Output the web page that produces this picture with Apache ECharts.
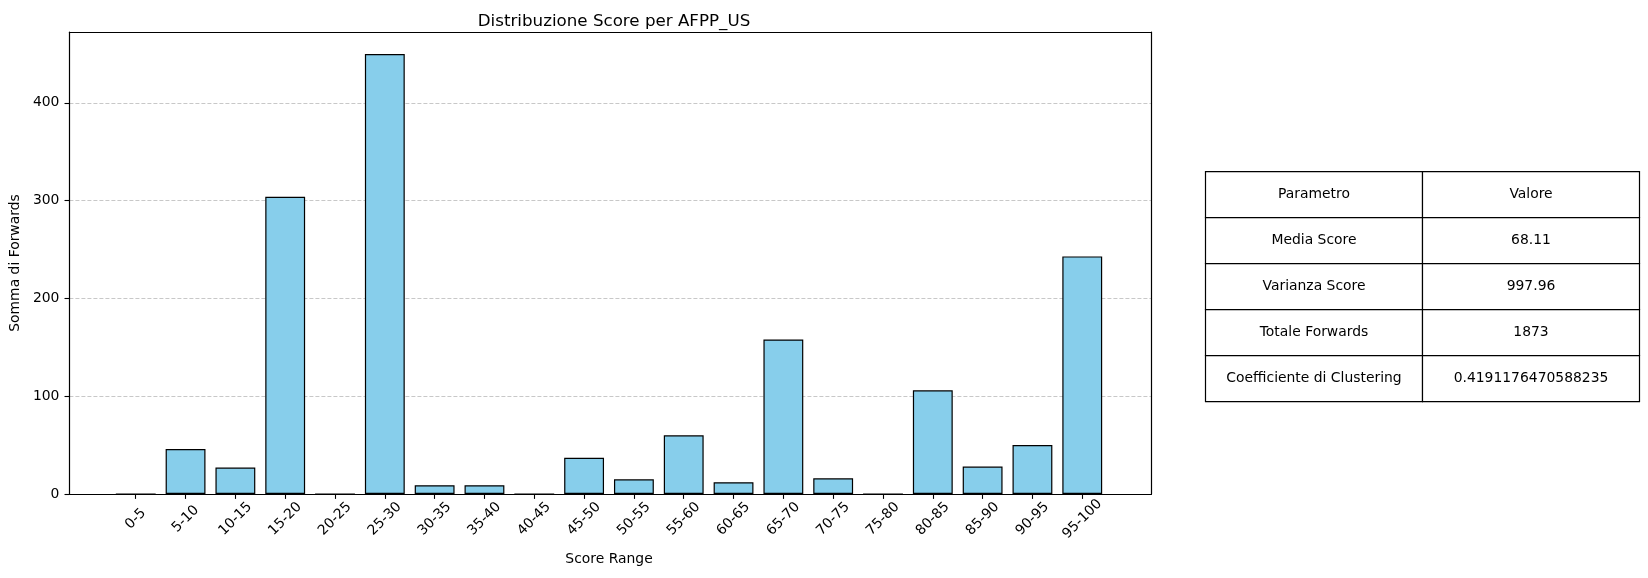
<!DOCTYPE html>
<html lang="it">
  <head>
    <meta charset="UTF-8" />
    <title>Distribuzione Score per AFPP_US</title>
    <script src="https://cdn.jsdelivr.net/npm/echarts@6.0.0/dist/echarts.min.js"></script>
    <style>
      html,
      body {
        margin: 0;
        padding: 0;
        background: #fff;
      }
      #chart {
        width: 1648px;
        height: 578px;
      }
    </style>
  </head>
  <body>
    <div id="chart"></div>
    <script>
      var categories = [
        "0-5", "5-10", "10-15", "15-20", "20-25", "25-30", "30-35",
        "35-40", "40-45", "45-50", "50-55", "55-60", "60-65", "65-70",
        "70-75", "75-80", "80-85", "85-90", "90-95", "95-100",
      ];
      var forwards = [
        0, 46, 27, 304, 0, 450, 9, 9, 0, 37, 15, 60, 12, 158, 16, 0, 106, 28, 50, 243,
      ];
      var yTicks = [0, 100, 200, 300, 400];
      var tableHeader = ["Parametro", "Valore"];
      var tableParams = ["Media Score", "Varianza Score", "Totale Forwards", "Coefficiente di Clustering"];
      var tableValues = ["68.11", "997.96", "1873", "0.4191176470588235"];

      var font = "DejaVu Sans";
      var yMax = 472.5;

      // frame of the axes (matplotlib limits -1.39 .. 20.39)
      var frameLeft = 66.5, frameTop = 32, frameW = 1085, frameH = 462;
      var unit = frameW / 21.78;
      var barsLeft = frameLeft + 0.89 * unit;
      var barsW = 20 * unit;

      // table
      var tblLeft = 1205.5, tblTop = 171.7, colW = 217, rowH = 46;
      var rows = [tableHeader].concat(
        tableParams.map(function (p, i) {
          return [p, tableValues[i]];
        })
      );
      var tableEls = [];
      rows.forEach(function (row, r) {
        row.forEach(function (txt, c) {
          tableEls.push({
            type: "rect",
            shape: { x: tblLeft + c * colW, y: tblTop + r * rowH, width: colW, height: rowH },
            style: { fill: "#fff", stroke: "#000", lineWidth: 1.2 },
          });
          tableEls.push({
            type: "text",
            x: tblLeft + c * colW + colW / 2,
            y: tblTop + r * rowH + rowH / 2,
            style: {
              text: txt,
              fill: "#000",
              font: "13.9px '" + font + "'",
              align: "center",
              verticalAlign: "middle",
            },
          });
        });
      });

      var frameLine = { show: true, onZero: false, lineStyle: { color: "#000", width: 1.2 } };
      function frameAxis(kind, pos) {
        return {
          gridIndex: 0,
          type: "value",
          position: pos,
          min: 0,
          max: kind === "x" ? 1 : yMax,
          axisLine: frameLine,
          axisTick: { show: false },
          axisLabel: { show: false },
          splitLine: { show: false },
        };
      }

      var chart = echarts.init(document.getElementById("chart"));
      chart.setOption({
        animation: false,
        backgroundColor: "#fff",
        textStyle: { fontFamily: font },
        title: {
          text: "Distribuzione Score per AFPP_US",
          left: frameLeft + frameW / 2,
          top: 8,
          textAlign: "center",
          textStyle: { fontFamily: font, fontSize: 16.7, fontWeight: "normal", color: "#000" },
        },
        grid: [
          { left: frameLeft, top: frameTop, width: frameW, height: frameH },
          { left: barsLeft, top: frameTop, width: barsW, height: frameH },
        ],
        xAxis: [
          frameAxis("x", "bottom"),
          {
            gridIndex: 1,
            type: "category",
            data: categories,
            boundaryGap: true,
            name: "Score Range",
            nameLocation: "middle",
            nameGap: 58,
            nameTextStyle: { fontFamily: font, fontSize: 13.9, color: "#000" },
            axisLine: { show: false },
            axisTick: { show: true, alignWithLabel: true, length: 4.9, lineStyle: { color: "#000", width: 1.1 } },
            axisLabel: {
              interval: 0,
              rotate: 45,
              align: "center",
              verticalAlign: "middle",
              margin: 25,
              fontFamily: font,
              fontSize: 13.9,
              color: "#000",
            },
            splitLine: { show: false },
          },
          frameAxis("x", "top"),
        ],
        yAxis: [
          {
            gridIndex: 0,
            type: "value",
            min: 0,
            max: yMax,
            interval: 100,
            name: "Somma di Forwards",
            nameLocation: "middle",
            nameGap: 44,
            nameTextStyle: { fontFamily: font, fontSize: 13.9, color: "#000" },
            axisLine: frameLine,
            axisTick: { show: true, length: 4.9, customValues: yTicks, lineStyle: { color: "#000", width: 1.1 } },
            axisLabel: { customValues: yTicks, margin: 10, fontFamily: font, fontSize: 13.9, color: "#000" },
            splitLine: { show: true, lineStyle: { color: "#c8c8c8", type: [4, 2], width: 1 } },
          },
          { gridIndex: 1, type: "value", min: 0, max: yMax, show: false, splitLine: { show: false } },
          frameAxis("y", "right"),
        ],
        series: [
          {
            type: "bar",
            xAxisIndex: 1,
            yAxisIndex: 1,
            data: forwards,
            barWidth: "80%",
            z: 3,
            itemStyle: { color: "#87CEEB", borderColor: "#000", borderWidth: 1.2 },
          },
        ],
        graphic: { elements: tableEls },
      });
    </script>
  </body>
</html>
